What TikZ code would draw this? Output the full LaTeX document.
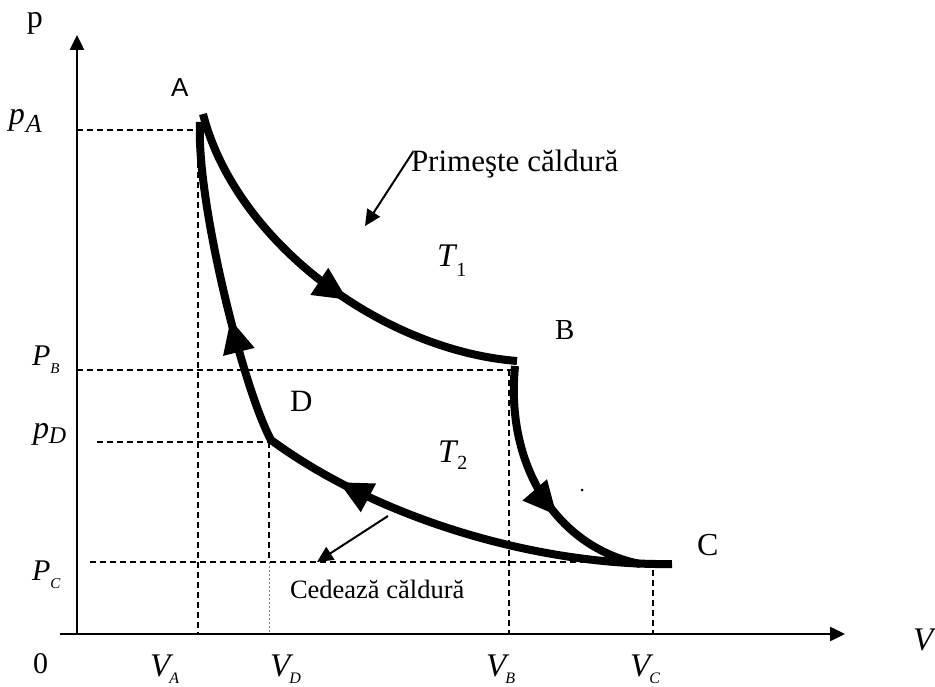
\documentclass[tikz,border=0pt]{standalone}
\usepackage{fontspec}
\setmainfont{Liberation Serif}
\newfontfamily\labsans{Liberation Sans}
\usetikzlibrary{arrows.meta,decorations.markings}
\newcommand\fsz[1]{\fontsize{#1}{#1}\selectfont}
\begin{document}
\begin{tikzpicture}[x=1pt,y=-1pt,
  every node/.style={inner sep=0pt,outer sep=0pt,anchor=base west},
  axis/.style={line width=2.5pt,-{Triangle[length=15pt,width=14pt]}},
  guide/.style={line width=1.2pt,dash pattern=on 6pt off 4pt},
  faint/.style={line width=0.8pt,gray,dash pattern=on 2pt off 2pt},
  cyc/.style={line width=8pt},
  heat/.style={line width=2pt,-{Triangle[length=16pt,width=15pt]}},
  bigtip/.style={postaction={decorate},decoration={markings,mark=at position #1 with {\arrow{Triangle[length=34pt,width=30pt]}}}}
]
\useasboundingbox (0,0) rectangle (935,687);
% key points
\coordinate (O) at (77,634);
\coordinate (ytip) at (77,35);
\coordinate (xs) at (60,634);
\coordinate (xtip) at (845,634);
\coordinate (A) at (203,114);
\coordinate (A2) at (200,122);
\coordinate (B) at (517,361);
\coordinate (B2) at (515,366);
\coordinate (C) at (672,564);
\coordinate (C2) at (640,564);
\coordinate (D) at (271,440);
% guides
\coordinate (gA1) at (77,130);  \coordinate (gA2) at (199,130);
\coordinate (vA1) at (198,122); \coordinate (vA2) at (198,634);
\coordinate (gB1) at (77,370);  \coordinate (gB2) at (513,370);
\coordinate (vB1) at (509,370); \coordinate (vB2) at (509,634);
\coordinate (gD1) at (97,442);  \coordinate (gD2) at (270,442);
\coordinate (vD1) at (269,442); \coordinate (vD2) at (269,562); \coordinate (vD3) at (269,634);
\coordinate (gC1) at (90,562);  \coordinate (gC2) at (640,562);
\coordinate (vC1) at (653,570); \coordinate (vC2) at (653,634);
\draw[guide] (gA1) -- (gA2);
\draw[guide] (vA1) -- (vA2);
\draw[guide] (gB1) -- (gB2);
\draw[guide] (vB1) -- (vB2);
\draw[guide] (gD1) -- (gD2);
\draw[guide] (vD1) -- (vD2);
\draw[faint] (vD2) -- (vD3);
\draw[guide] (gC1) -- (gC2);
\draw[guide] (vC1) -- (vC2);
% axes
\draw[axis] (O) -- (ytip);
\draw[axis] (xs) -- (xtip);
% cycle
\draw[cyc,bigtip=0.57] (A) .. controls (235,240) and (380,350) .. (B);
\draw[cyc,bigtip=0.62] (B2) .. controls (505,470) and (560,548) .. (C2);
\draw[cyc,postaction={decorate},decoration={markings,
   mark=at position 0.46 with {\arrow{Triangle[length=34pt,width=30pt]}},
   mark=at position 0.735 with {\arrow{Triangle[length=34pt,width=30pt]}}}]
  (C) .. controls (540,566) and (380,520) .. (D) .. controls (243,388) and (196,200) .. (A2);
% heat arrows
\coordinate (pr1) at (413,152); \coordinate (pr2) at (365,226);
\coordinate (ce1) at (388,516); \coordinate (ce2) at (317,562);
\draw[heat] (pr1) -- (pr2);
\draw[heat] (ce1) -- (ce2);
\fill (582,490) circle (1.5);
% labels
\node (lp) at (27,28) {\fsz{32}p};
\node (lV) at (913,650) {\fsz{33}\textit{V}};
\node (l0) at (33,673) {\fsz{30}0};
\node (lA) at (171,97) {\labsans\fsz{26}A};
\node (lB) at (555,339) {\fsz{29}B};
\node (lC) at (697,555) {\fsz{32}C};
\node (lD) at (290,411) {\fsz{31}D};
\node (lpA) at (9,125) {\fsz{32}\textit{p}\kern1pt\raisebox{-8pt}{\fsz{26}\textit{A}}};
\node (lpD) at (33,438) {\fsz{32}\textit{p}\kern0pt\raisebox{-5pt}{\fsz{24}\textit{D}}};
\node (lPB) at (32,365) {\fsz{30}\textit{P}\kern0pt\raisebox{-8pt}{\fsz{15}\textit{B}}};
\node (lPC) at (32,580) {\fsz{30}\textit{P}\kern0pt\raisebox{-8pt}{\fsz{15}\textit{C}}};
\node (lVA) at (150,676) {\fsz{33}\textit{V}\kern-4pt\raisebox{-7pt}{\fsz{16}\textit{A}}};
\node (lVD) at (270,676) {\fsz{33}\textit{V}\kern-4pt\raisebox{-7pt}{\fsz{16}\textit{D}}};
\node (lVB) at (486,676) {\fsz{33}\textit{V}\kern-4pt\raisebox{-7pt}{\fsz{16}\textit{B}}};
\node (lVC) at (630,676) {\fsz{33}\textit{V}\kern-4pt\raisebox{-7pt}{\fsz{16}\textit{C}}};
\node (lT1) at (437,267) {\fsz{33}\textit{T}\kern-1pt\raisebox{-10pt}{\fsz{20}1}};
\node (lT2) at (438,462) {\fsz{33}\textit{T}\kern-1pt\raisebox{-7pt}{\fsz{20}2}};
\node (lprim) at (411,172) {\fsz{31}Primeşte căldură};
\node (lced) at (290,598) {\fsz{26.5}Cedează căldură};
\end{tikzpicture}
\end{document}
